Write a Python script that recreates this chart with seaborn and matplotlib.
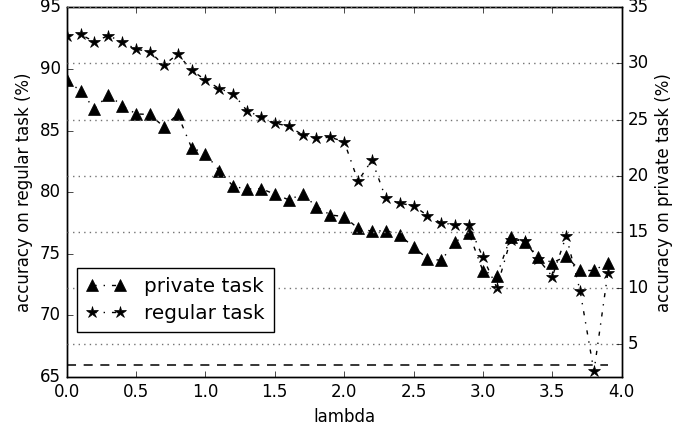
import matplotlib
matplotlib.use("Agg")
import matplotlib.pyplot as plt
import seaborn as sns

# lambda values (x axis)
lam = [0.0, 0.1, 0.2, 0.3, 0.4, 0.5, 0.6, 0.7, 0.8, 0.9,
       1.0, 1.1, 1.2, 1.3, 1.4, 1.5, 1.6, 1.7, 1.8, 1.9,
       2.0, 2.1, 2.2, 2.3, 2.4, 2.5, 2.6, 2.7, 2.8, 2.9,
       3.0, 3.1, 3.2, 3.3, 3.4, 3.5, 3.6, 3.7, 3.8, 3.9]

# accuracy on regular task (left axis)
regular_acc = [92.7, 92.8, 92.2, 92.7, 92.2, 91.6, 91.4, 90.3, 91.2, 89.9,
               89.1, 88.4, 88.0, 86.6, 86.1, 85.6, 85.35, 84.65, 84.4, 84.45,
               84.1, 80.9, 82.6, 79.5, 79.1, 78.9, 78.1, 77.5, 77.35, 77.3,
               74.7, 72.25, 76.15, 76.05, 74.55, 73.15, 76.45, 72.0, 65.45, 73.45]

# accuracy on private task (right axis)
private_acc = [28.5, 27.55, 25.95, 27.2, 26.25, 25.5, 25.45, 24.35, 25.45, 22.5,
               21.95, 20.45, 19.05, 18.8, 18.85, 18.35, 17.85, 18.35, 17.25, 16.5,
               16.35, 15.3, 15.05, 15.1, 14.7, 13.65, 12.6, 12.45, 14.1, 14.85,
               11.5, 11.1, 14.55, 14.1, 12.75, 12.25, 12.8, 11.55, 11.55, 12.25]

# chance level on private task (1/32)
chance = [3.125] * len(lam)

plt.style.use("classic")
plt.rcParams["font.family"] = ["DejaVu Sans"]

fig = plt.figure(figsize=(6.98, 4.29), dpi=100)
fig.patch.set_facecolor("white")
ax = fig.add_axes([0.0955, 0.1212, 0.7952, 0.8618])
ax2 = ax.twinx()

sns.lineplot(x=lam, y=regular_acc, ax=ax, color="k", marker="*", markersize=9,
             markeredgecolor="k", markeredgewidth=0.5, linestyle="-.", linewidth=1,
             label="regular task", legend=False)
sns.lineplot(x=lam, y=private_acc, ax=ax2, color="k", marker="^", markersize=8.5,
             markeredgecolor="k", markeredgewidth=0.5, linestyle="-.", linewidth=1,
             label="private task", legend=False)
sns.lineplot(x=lam, y=chance, ax=ax2, color="k", linestyle="--", linewidth=1.1,
             legend=False)
ax2.lines[-1].set_dashes([6.5, 5.5])

ax.set_xlim(0, 4)
ax.set_ylim(65, 95)
ax2.set_ylim(2.06, 35)
ax.set_xticks([0.0, 0.5, 1.0, 1.5, 2.0, 2.5, 3.0, 3.5, 4.0])
ax.set_yticks([65, 70, 75, 80, 85, 90, 95])
ax2.set_yticks([5, 10, 15, 20, 25, 30, 35])
ax2.yaxis.grid(True, linestyle=":", color="0.45", linewidth=1)
ax.xaxis.grid(False)
ax.yaxis.grid(False)

ax.set_xlabel("lambda", fontsize=12)
ax.set_ylabel("accuracy on regular task (%)", fontsize=12)
ax2.set_ylabel("accuracy on private task (%)", fontsize=12)

h1, l1 = ax2.get_legend_handles_labels()
h2, l2 = ax.get_legend_handles_labels()
handles = [h for h, l in zip(h1 + h2, l1 + l2) if l in ("private task", "regular task")]
labels = [l for l in l1 + l2 if l in ("private task", "regular task")]
leg = ax2.legend(handles, labels, loc="lower left", bbox_to_anchor=(0.0186, 0.122),
                 borderaxespad=0, numpoints=2, fontsize=14.4, handlelength=2.0,
                 handletextpad=0.9, borderpad=0.45, labelspacing=0.4,
                 fancybox=False, framealpha=1)
leg.get_frame().set_edgecolor("k")

fig.savefig("out.png", dpi=100, facecolor="white")
